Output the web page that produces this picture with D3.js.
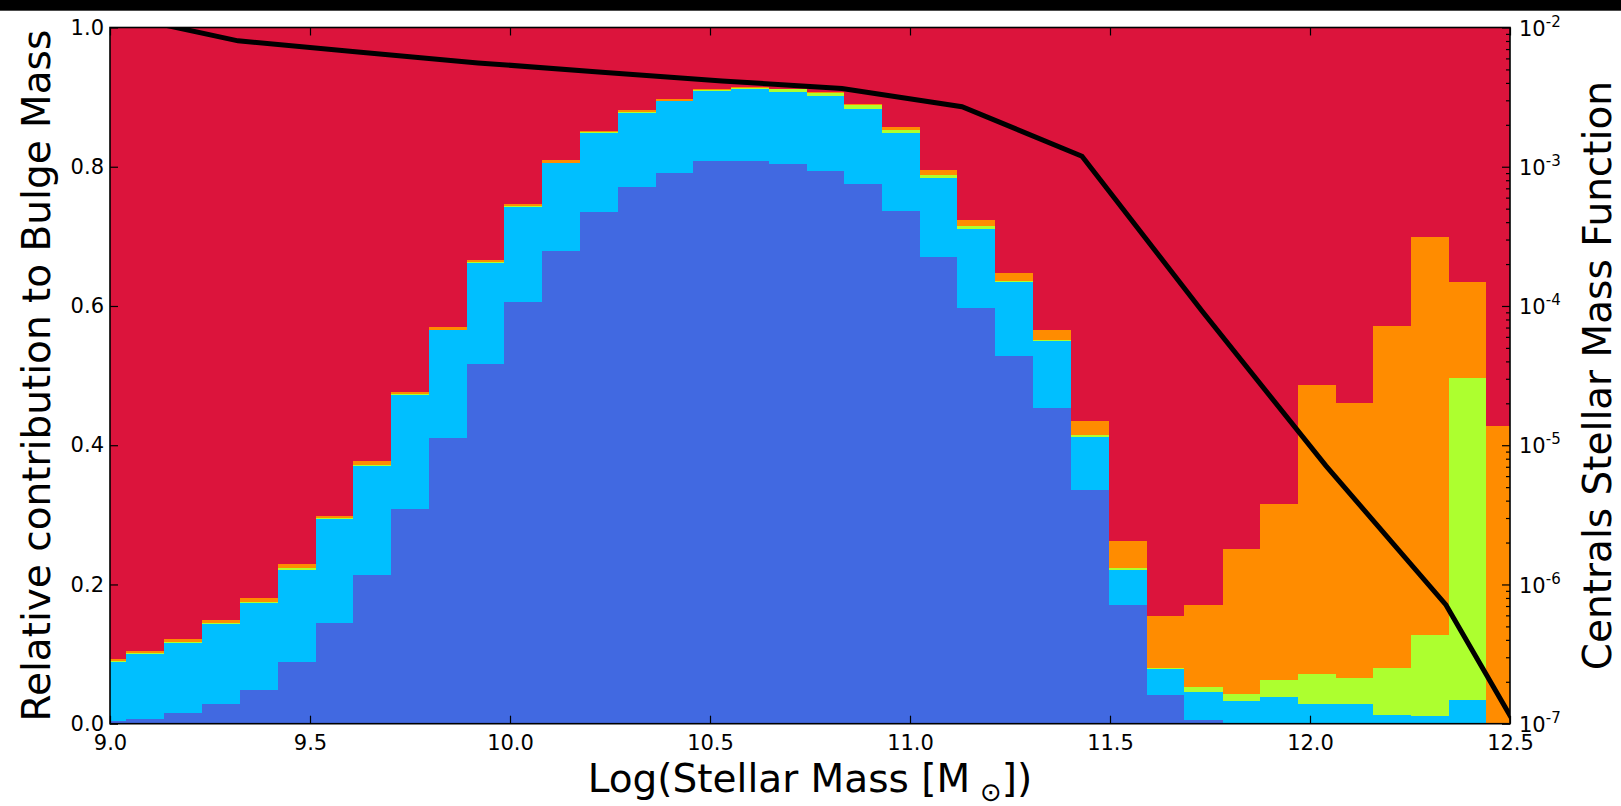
<!DOCTYPE html>
<html>
<head>
<meta charset="utf-8">
<script src="https://cdn.jsdelivr.net/npm/d3@7/dist/d3.min.js"></script>
<style>
  body { margin: 0; background: #fff; }
  svg { display: block; }
  text { font-family: "DejaVu Sans", sans-serif; fill: #000; }
</style>
</head>
<body>
<svg id="chart" width="1621" height="806"></svg>
<script>
// Stellar-mass bin edges, log10(M*/Msun)
const binEdges = [8.946, 9.040, 9.135, 9.230, 9.325, 9.420, 9.514, 9.608, 9.703, 9.798,
  9.893, 9.986, 10.081, 10.176, 10.270, 10.364, 10.458, 10.553, 10.647, 10.742,
  10.836, 10.931, 11.024, 11.118, 11.213, 11.308, 11.403, 11.497, 11.592, 11.686,
  11.782, 11.876, 11.969, 12.064, 12.158, 12.253, 12.347, 12.441, 12.536];

// Fractional contribution of each channel to bulge mass, per bin (bottom to top)
const compRoyal = [0.004, 0.007, 0.016, 0.028, 0.049, 0.088, 0.144, 0.214, 0.309, 0.411,
  0.516, 0.605, 0.679, 0.735, 0.771, 0.791, 0.808, 0.808, 0.804, 0.794,
  0.775, 0.737, 0.671, 0.597, 0.528, 0.453, 0.335, 0.171, 0.041, 0.005,
  0.000, 0.000, 0.000, 0.000, 0.000, 0.000, 0.000, 0.000];
const compSky = [0.084, 0.093, 0.100, 0.115, 0.125, 0.133, 0.150, 0.156, 0.163, 0.154,
  0.146, 0.137, 0.126, 0.114, 0.106, 0.103, 0.101, 0.103, 0.104, 0.108,
  0.108, 0.112, 0.113, 0.114, 0.106, 0.096, 0.077, 0.050, 0.037, 0.041,
  0.033, 0.038, 0.028, 0.028, 0.013, 0.011, 0.034, 0.000];
const compLime = [0.002, 0.001, 0.001, 0.001, 0.001, 0.002, 0.001, 0.001, 0.001, 0.001,
  0.001, 0.001, 0.001, 0.001, 0.001, 0.001, 0.001, 0.002, 0.003, 0.004,
  0.005, 0.004, 0.004, 0.004, 0.002, 0.002, 0.002, 0.002, 0.002, 0.006,
  0.009, 0.025, 0.043, 0.037, 0.067, 0.116, 0.462, 0.000];
const compOrange = [0.003, 0.003, 0.004, 0.005, 0.005, 0.006, 0.004, 0.006, 0.004, 0.004,
  0.003, 0.003, 0.004, 0.002, 0.003, 0.002, 0.002, 0.001, 0.001, 0.001,
  0.002, 0.004, 0.008, 0.008, 0.011, 0.015, 0.021, 0.039, 0.074, 0.118,
  0.209, 0.253, 0.415, 0.396, 0.491, 0.572, 0.139, 0.427];
const compCrimson = [0.907, 0.896, 0.879, 0.851, 0.820, 0.771, 0.701, 0.623, 0.523, 0.430,
  0.334, 0.254, 0.190, 0.148, 0.119, 0.103, 0.088, 0.086, 0.088, 0.093,
  0.110, 0.143, 0.204, 0.277, 0.353, 0.434, 0.565, 0.738, 0.846, 0.830,
  0.749, 0.684, 0.514, 0.539, 0.429, 0.301, 0.365, 0.573];

const channelSeries = [compRoyal, compSky, compLime, compOrange, compCrimson];
const channelColors = ["#4169E1", "#00BFFF", "#ADFF2F", "#FF8C00", "#DC143C"];

// Stellar mass function of centrals (right axis)
const smfMass = [9.02, 9.32, 9.62, 9.92, 10.23, 10.53, 10.83, 11.13, 11.43, 11.73, 12.04, 12.34, 12.64];
const smfPhi = [1.23e-2, 8.02e-3, 6.67e-3, 5.57e-3, 4.78e-3, 4.13e-3, 3.65e-3, 2.70e-3, 1.19e-3,
  9.2e-5, 7.1e-6, 7.13e-7, 2.31e-8];

// Axis ticks
const xTicks = [9.0, 9.5, 10.0, 10.5, 11.0, 11.5, 12.0, 12.5];
const yTicks = [0.0, 0.2, 0.4, 0.6, 0.8, 1.0];
const phiMajor = [1e-7, 1e-6, 1e-5, 1e-4, 1e-3, 1e-2];
const phiExponents = ["-7", "-6", "-5", "-4", "-3", "-2"];

const svg = d3.select("#chart");
const W = 1621, H = 806;
const plotL = 110, plotR = 1510, plotT = 27.5, plotB = 723.7;

svg.append("rect").attr("width", W).attr("height", H).attr("fill", "#fff");
svg.append("rect").attr("x", 0).attr("y", 0).attr("width", W).attr("height", 10.7).attr("fill", "#000");

const x = d3.scaleLinear().domain([9.0, 12.5]).range([plotL, plotR]);
const y = d3.scaleLinear().domain([0, 1]).range([plotB, plotT]);
const yPhi = d3.scaleLog().domain([1e-7, 1e-2]).range([plotB, plotT]);

svg.append("defs").append("clipPath").attr("id", "plotClip")
  .append("rect").attr("x", plotL).attr("y", plotT)
  .attr("width", plotR - plotL).attr("height", plotB - plotT);

// Stacked fraction bars
const stackRows = binEdges.slice(0, -1).map((e, i) => {
  let base = 0;
  return channelSeries.map((s, k) => {
    const seg = { lo: binEdges[i], hi: binEdges[i + 1], y0: base, y1: base + s[i], color: channelColors[k] };
    base += s[i];
    return seg;
  });
}).flat();

const barsG = svg.append("g").attr("clip-path", "url(#plotClip)");
barsG.selectAll("rect").data(stackRows).join("rect")
  .attr("x", d => x(d.lo))
  .attr("width", d => x(d.hi) - x(d.lo))
  .attr("y", d => y(Math.min(d.y1, 1)))
  .attr("height", d => Math.max(0, y(d.y0) - y(Math.min(d.y1, 1))))
  .attr("fill", d => d.color)
  .attr("shape-rendering", "crispEdges");

// Mass function line on the log axis
const line = d3.line().x((d, i) => x(smfMass[i])).y(d => yPhi(d));
svg.append("g").attr("clip-path", "url(#plotClip)")
  .append("path").datum(smfPhi)
  .attr("d", line)
  .attr("fill", "none").attr("stroke", "#000").attr("stroke-width", 5)
  .attr("stroke-linejoin", "miter");

const tickFont = 21;

// Bottom axis
const gx = svg.append("g").attr("transform", `translate(0,${plotB})`)
  .call(d3.axisBottom(x).tickValues(xTicks).tickFormat(d3.format(".1f")).tickSizeInner(-8).tickSizeOuter(0).tickPadding(11));
// Top ticks
const gxt = svg.append("g").attr("transform", `translate(0,${plotT})`)
  .call(d3.axisTop(x).tickValues(xTicks).tickFormat("").tickSizeInner(-8).tickSizeOuter(0));
// Left axis
const gy = svg.append("g").attr("transform", `translate(${plotL},0)`)
  .call(d3.axisLeft(y).tickValues(yTicks).tickFormat(d3.format(".1f")).tickSizeInner(-8).tickSizeOuter(0).tickPadding(6));
// Right log axis: minor ticks then major ticks with labels
const phiMinor = [];
phiMajor.slice(0, -1).forEach(p => { for (let m = 2; m <= 9; m++) phiMinor.push(p * m); });
const gyrMinor = svg.append("g").attr("transform", `translate(${plotR},0)`)
  .call(d3.axisRight(yPhi).tickValues(phiMinor).tickFormat("").tickSizeInner(-4).tickSizeOuter(0));
const gyr = svg.append("g").attr("transform", `translate(${plotR},0)`)
  .call(d3.axisRight(yPhi).tickValues(phiMajor).tickFormat("").tickSizeInner(-8).tickSizeOuter(0).tickPadding(9));

[gx, gxt, gy, gyrMinor, gyr].forEach(g => {
  g.select(".domain").remove();
  g.selectAll(".tick line").attr("stroke", "#000").attr("stroke-width", 1.2);
  g.selectAll("text").attr("font-size", tickFont).attr("font-family", "DejaVu Sans, sans-serif");
});

gyr.selectAll(".tick text").each(function (d, i) {
  const t = d3.select(this);
  t.text(null).attr("dy", "0.36em");
  t.append("tspan").text("10");
  t.append("tspan").attr("dy", -9).attr("font-size", 15).text(phiExponents[i]);
});

// Plot frame
svg.append("rect").attr("x", plotL).attr("y", plotT)
  .attr("width", plotR - plotL).attr("height", plotB - plotT)
  .attr("fill", "none").attr("stroke", "#000").attr("stroke-width", 1.6);

// Axis titles
const titleFont = 39;
const xTitle = svg.append("text").attr("x", (plotL + plotR) / 2).attr("y", 792)
  .attr("text-anchor", "middle").attr("font-size", titleFont);
xTitle.append("tspan").text("Log(Stellar Mass [M");
xTitle.append("tspan").attr("dx", 10).attr("dy", 9).attr("font-size", 26).text("\u2299");
xTitle.append("tspan").attr("dy", -9).text("])");

svg.append("text").attr("transform", `translate(50,${(plotT + plotB) / 2}) rotate(-90)`)
  .attr("text-anchor", "middle").attr("font-size", titleFont)
  .text("Relative contribution to Bulge Mass");

svg.append("text").attr("transform", `translate(1611,${(plotT + plotB) / 2}) rotate(-90)`)
  .attr("text-anchor", "middle").attr("font-size", titleFont)
  .text("Centrals Stellar Mass Function");
</script>
</body>
</html>
